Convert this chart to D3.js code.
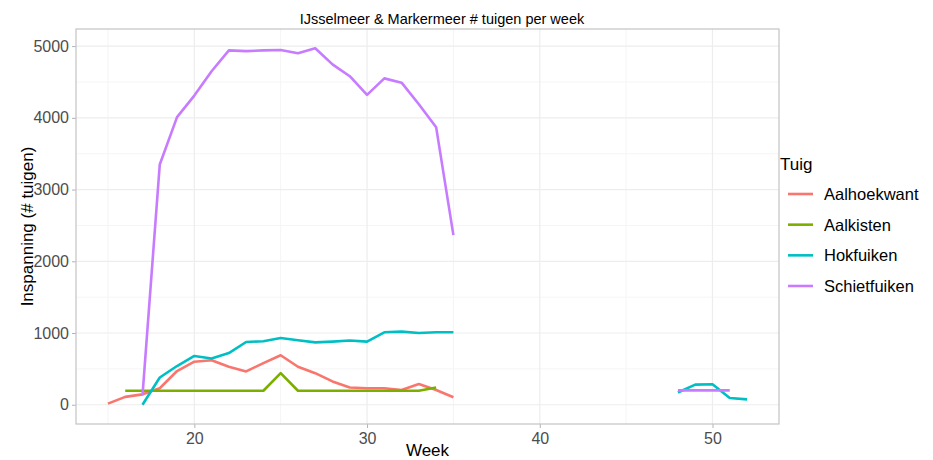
<!DOCTYPE html>
<html>
<head>
<meta charset="utf-8">
<script src="https://cdn.jsdelivr.net/npm/d3@7"></script>
<style>
  body { margin: 0; background: #fff; }
  svg text { font-family: "Liberation Sans", Arial, sans-serif; }
</style>
</head>
<body>
<svg id="chart"></svg>
<script>
// weeks with data (gap between 35 and 48)
const weeks = [15, 16, 17, 18, 19, 20, 21, 22, 23, 24, 25, 26, 27, 28, 29, 30, 31, 32, 33, 34, 35, 48, 49, 50, 51, 52];

const seriesNames = ["Aalhoekwant", "Aalkisten", "Hokfuiken", "Schietfuiken"];
const seriesColors = ["#F8766D", "#7CAE00", "#00BFC4", "#C77CFF"];

const aalhoekwant = [15, 110, 145, 230, 470, 600, 620, 530, 465, 580, 690, 530, 440, 325, 240, 230, 230, 205, 290, 205, 105, null, null, null, null, null];
const aalkisten = [null, 195, 195, 195, 195, 195, 195, 195, 195, 195, 440, 195, 195, 195, 195, 195, 195, 195, 195, 240, null, null, null, null, null, null];
const hokfuiken = [null, null, 0, 380, 540, 680, 645, 720, 875, 885, 930, 900, 870, 880, 895, 880, 1010, 1020, 1000, 1010, 1010, 170, 280, 285, 95, 75];
const schietfuiken = [null, null, 130, 3350, 4010, 4310, 4650, 4940, 4930, 4940, 4945, 4900, 4970, 4745, 4580, 4320, 4550, 4490, 4190, 3870, 2365, 200, 200, 200, 200, null];

const xTicks = [20, 30, 40, 50];
const xMinor = [15, 25, 35, 45];
const yTicks = [0, 1000, 2000, 3000, 4000, 5000];
const yMinor = [500, 1500, 2500, 3500, 4500];

const config = {
    width: 933,
    height: 460,
    margin: { top: 29, bottom: 36, left: 76, right: 154 }
};

const svg = d3.select('#chart')
    .attr('width', config.width)
    .attr('height', config.height);

const innerW = config.width - config.margin.left - config.margin.right;
const innerH = config.height - config.margin.top - config.margin.bottom;

const chart = svg.append('g')
    .attr('transform', `translate(${config.margin.left},${config.margin.top})`);

// scales (ggplot-style 5% expansion)
const xMin = 15, xMax = 52;
const xPad = (xMax - xMin) * 0.05;
const xScale = d3.scaleLinear()
    .domain([xMin - xPad, xMax + xPad])
    .range([0, innerW]);

const yMax = 4970;
const yPad = yMax * 0.05;
const yScale = d3.scaleLinear()
    .domain([-yPad - 20, yMax + yPad + 20])
    .range([innerH, 0]);

// grid
chart.selectAll('.grid-minor-x').data(xMinor).join('line')
    .attr('x1', d => xScale(d)).attr('x2', d => xScale(d))
    .attr('y1', 0).attr('y2', innerH)
    .attr('stroke', '#f5f5f5').attr('stroke-width', 1);
chart.selectAll('.grid-minor-y').data(yMinor).join('line')
    .attr('x1', 0).attr('x2', innerW)
    .attr('y1', d => yScale(d)).attr('y2', d => yScale(d))
    .attr('stroke', '#f5f5f5').attr('stroke-width', 1);
chart.selectAll('.grid-major-x').data(xTicks).join('line')
    .attr('x1', d => xScale(d)).attr('x2', d => xScale(d))
    .attr('y1', 0).attr('y2', innerH)
    .attr('stroke', '#ededed').attr('stroke-width', 1.2);
chart.selectAll('.grid-major-y').data(yTicks).join('line')
    .attr('x1', 0).attr('x2', innerW)
    .attr('y1', d => yScale(d)).attr('y2', d => yScale(d))
    .attr('stroke', '#ededed').attr('stroke-width', 1.2);

// axes
const xAxis = d3.axisBottom(xScale).tickValues(xTicks).tickFormat(d3.format('d'))
    .tickSize(4).tickSizeOuter(0).tickPadding(5);
const yAxis = d3.axisLeft(yScale).tickValues(yTicks).tickFormat(d3.format('d'))
    .tickSize(4).tickSizeOuter(0).tickPadding(3);

const xAxisGroup = chart.append('g')
    .attr('transform', `translate(0,${innerH})`)
    .call(xAxis);
const yAxisGroup = chart.append('g').call(yAxis);

[xAxisGroup, yAxisGroup].forEach(g => {
    g.attr('font-size', 16).attr('font-family', '"Liberation Sans", Arial, sans-serif');
    g.select('.domain').remove();
    g.selectAll('.tick line').attr('stroke', '#b3b3b3');
    g.selectAll('.tick text').attr('fill', '#4d4d4d');
});

// lines
const allSeries = [aalhoekwant, aalkisten, hokfuiken, schietfuiken];
const line = d3.line()
    .defined(d => d.v !== null)
    .x(d => xScale(d.w))
    .y(d => yScale(d.v));

allSeries.forEach((vals, i) => {
    // split into runs of consecutive weeks
    let runs = [], cur = [];
    weeks.forEach((w, j) => {
        if (cur.length && w - cur[cur.length - 1].w > 1) { runs.push(cur); cur = []; }
        cur.push({ w: w, v: vals[j] });
    });
    runs.push(cur);
    runs.forEach(run => {
        chart.append('path')
            .datum(run)
            .attr('fill', 'none')
            .attr('stroke', seriesColors[i])
            .attr('stroke-width', 2.6)
            .attr('stroke-linejoin', 'round')
            .attr('d', line);
    });
});

// panel border
chart.append('rect')
    .attr('width', innerW).attr('height', innerH)
    .attr('fill', 'none')
    .attr('stroke', '#c4c4c4').attr('stroke-width', 1.2);

// titles
svg.append('text')
    .attr('x', 442).attr('y', 24)
    .attr('text-anchor', 'middle')
    .attr('font-size', '14.5px')
    .text('IJsselmeer & Markermeer # tuigen per week');

svg.append('text')
    .attr('x', config.margin.left + innerW / 2)
    .attr('y', 456)
    .attr('text-anchor', 'middle')
    .attr('font-size', '17px')
    .text('Week');

const yTitle = svg.append('text')
    .attr('text-anchor', 'middle')
    .attr('font-size', '17px')
    .attr('x', 33)
    .attr('y', config.margin.top + innerH / 2)
    .text('Inspanning (# tuigen)');
yTitle.attr('transform', `rotate(270, ${yTitle.attr('x')}, ${yTitle.attr('y')})`);

// legend
const legend = svg.append('g').attr('transform', 'translate(780,0)');
legend.append('text')
    .attr('x', 0).attr('y', 170)
    .attr('font-size', '17px')
    .text('Tuig');

const legendY = d3.scalePoint().domain(seriesNames).range([194, 286]);
const items = legend.selectAll('.legend-item').data(seriesNames).join('g')
    .attr('transform', d => `translate(0,${legendY(d)})`);
items.append('line')
    .attr('x1', 8).attr('x2', 33)
    .attr('stroke', (d, i) => seriesColors[i])
    .attr('stroke-width', 2.6);
items.append('text')
    .attr('x', 44).attr('y', 6)
    .attr('font-size', '16.5px')
    .text(d => d);
</script>
</body>
</html>
